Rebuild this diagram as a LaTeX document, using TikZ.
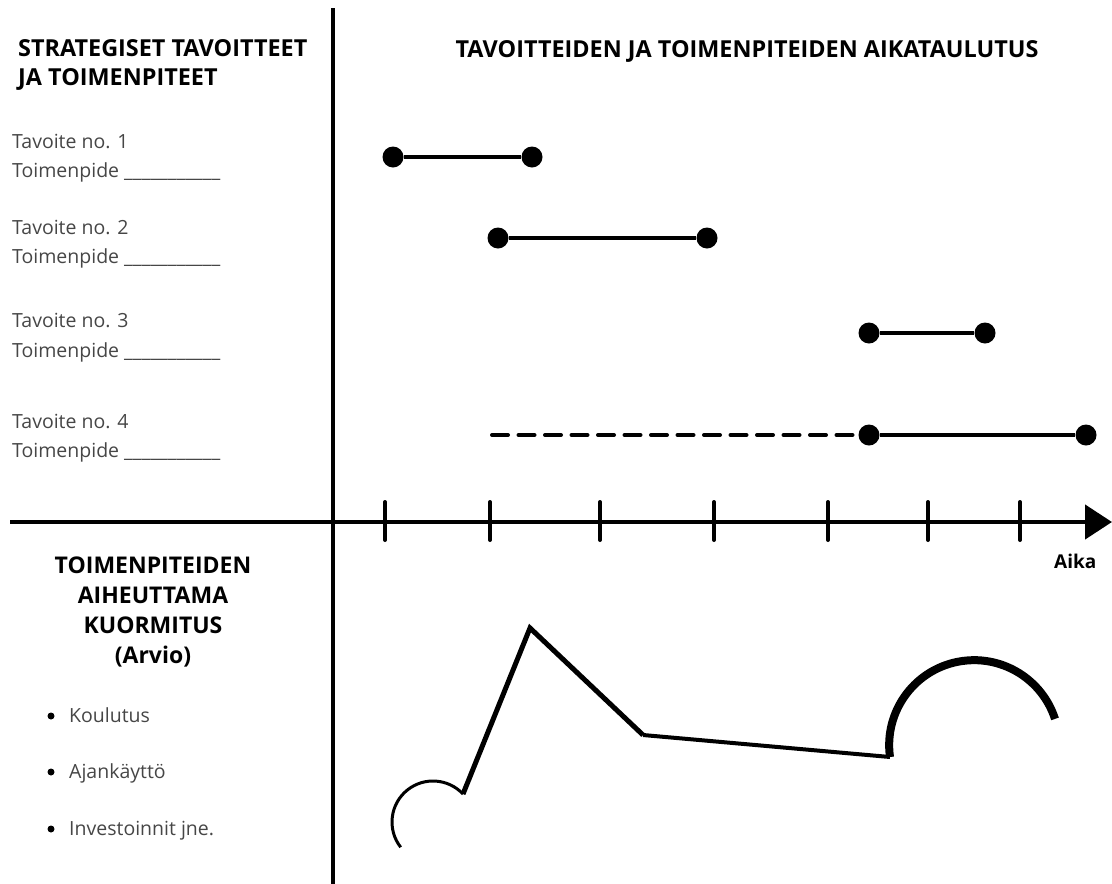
\documentclass[tikz,border=0pt]{standalone}
\usepackage{fontspec}
\setmainfont{Open Sans}
\usetikzlibrary{arrows.meta}
\definecolor{txt}{RGB}{70,70,70}
\begin{document}
\begin{tikzpicture}[x=1pt,y=-1pt,
  dot/.style={circle,fill=black,inner sep=0pt,minimum size=21pt},
  bul/.style={circle,fill=black,inner sep=0pt,minimum size=7pt},
  bar/.style={line width=4pt},
  dashbar/.style={line width=4pt,line cap=round,dash pattern=on 16pt off 10.5pt},
  head/.style={font=\bfseries\fontsize{23.4}{28}\selectfont,anchor=base west,inner sep=0pt},
  headc/.style={font=\bfseries\fontsize{23}{27}\selectfont,anchor=base,inner sep=0pt},
  body/.style={font=\fontsize{19.5}{23}\selectfont,text=txt,anchor=base west,inner sep=0pt},
  tick/.style={line width=4pt,line cap=round},
]
\useasboundingbox (0,0) rectangle (1112,884);

% headings
\node[head] (h1) at (18,56) {STRATEGISET TAVOITTEET};
\node[head] (h2) at (18,85) {JA TOIMENPITEET};
\node[head,anchor=base] (h3) at (747,57) {TAVOITTEIDEN JA TOIMENPITEIDEN AIKATAULUTUS};

% left list
\node[body] (t1) at (12,148) {Tavoite no. 1};
\node[body] (p1) at (12,177) {Toimenpide \_\_\_\_\_\_\_\_\_\_\_};
\node[body] (t2) at (12,234) {Tavoite no. 2};
\node[body] (p2) at (12,263) {Toimenpide \_\_\_\_\_\_\_\_\_\_\_};
\node[body] (t3) at (12,327) {Tavoite no. 3};
\node[body] (p3) at (12,357) {Toimenpide \_\_\_\_\_\_\_\_\_\_\_};
\node[body] (t4) at (12,428) {Tavoite no. 4};
\node[body] (p4) at (12,457) {Toimenpide \_\_\_\_\_\_\_\_\_\_\_};

% axes
\coordinate (vt) at (333,8);
\coordinate (vb) at (333,884);
\draw[line width=4.5pt] (vt) -- (vb);
\coordinate (xs) at (10,522);
\coordinate (xe) at (1112,522);
\draw[line width=4.5pt,-{Triangle[length=27pt,width=34pt]}] (xs) -- (xe);
\foreach \x in {385,490,600,714,828,928,1020}
  \draw[tick] (\x,502) -- (\x,540);
\node[font=\bfseries\fontsize{19}{23}\selectfont,anchor=base west,inner sep=0pt] (aika) at (1054,568) {Aika};

% timeline bars
\node[dot] (a1) at (393,157) {};
\node[dot] (b1) at (532,157) {};
\draw[bar] (a1) -- (b1);
\node[dot] (a2) at (498,238) {};
\node[dot] (b2) at (707,238) {};
\draw[bar] (a2) -- (b2);
\node[dot] (a3) at (869,333) {};
\node[dot] (b3) at (985,333) {};
\draw[bar] (a3) -- (b3);
\coordinate (d4) at (492,435);
\node[dot] (a4) at (869,435) {};
\node[dot] (b4) at (1086,435) {};
\draw[dashbar] (d4) -- (a4.west);
\draw[bar] (a4) -- (b4);

% bottom left heading
\node[headc] (k1) at (153,573) {TOIMENPITEIDEN};
\node[headc] (k2) at (153,603) {AIHEUTTAMA};
\node[headc] (k3) at (153,633) {KUORMITUS};
\node[headc] (k4) at (153,663) {(Arvio)};

% bullets
\node[bul] (u1) at (51,716) {};
\node[body] (l1) at (69,722) {Koulutus};
\node[bul] (u2) at (51,772) {};
\node[body] (l2) at (69,778) {Ajankäyttö};
\node[bul] (u3) at (51,829) {};
\node[body] (l3) at (69,835) {Investoinnit jne.};

% load curve
\coordinate (c0) at (433,822);
\draw[line width=3pt] (c0) ++(142:41) arc[start angle=142,end angle=317,radius=41] coordinate (c1);
\coordinate (c2) at (530,628);
\coordinate (c3) at (643,735);
\coordinate (c4) at (890,757);
\draw[line width=5pt,line join=miter] (c1) -- (c2) -- (c3);
\draw[line width=4pt] (c3) -- (c4);
\draw[line width=8pt] (c4) arc[start angle=172,end angle=342,radius=85];
\end{tikzpicture}
\end{document}
